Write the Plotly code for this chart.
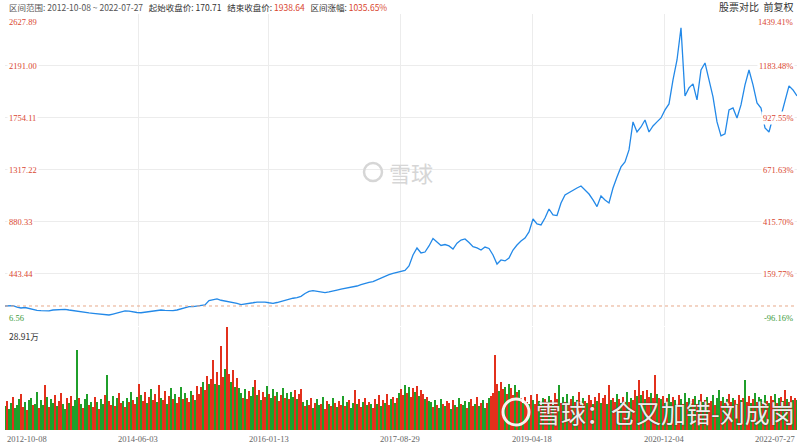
import pandas as pd
import plotly.graph_objects as go

start_date = "2012-10-08"
end_date = "2022-07-27"
tick_dates = ["2012-10-08", "2014-06-03", "2016-01-13", "2017-08-29",
              "2019-04-18", "2020-12-04", "2022-07-27"]
price_levels = [6.56, 443.44, 880.33, 1317.22, 1754.11, 2191.00, 2627.89]
pct_labels = ["-96.16%", "159.77%", "415.70%", "671.63%", "927.55%", "1183.48%", "1439.41%"]
start_close = 170.71

close = [
    170.71, 175, 173, 162, 154, 158, 150, 137, 134, 131, 129, 129, 137, 141, 145, 143, 137, 131, 126, 123,
    118, 112, 109, 106, 103, 98, 95, 103, 112, 123, 129, 127, 120, 116, 114, 118, 123, 131, 134, 137,
    134, 133, 131, 137, 148, 160, 165, 165, 168, 171, 179, 217, 224, 230, 219, 213, 209, 200, 193, 183,
    190, 196, 198, 204, 207, 204, 198, 193, 200, 210, 221, 230, 236, 242, 252, 276, 293, 300, 294, 290,
    284, 289, 300, 305, 312, 318, 322, 328, 339, 350, 362, 370, 375, 390, 406, 423, 434, 446, 453, 459,
    470, 507, 600, 659, 617, 625, 676, 739, 712, 680, 688, 676, 650, 699, 726, 735, 705, 670, 659, 642,
    667, 655, 600, 524, 558, 550, 575, 642, 684, 718, 743, 794, 903, 861, 853, 911, 987, 937, 932, 1038,
    1105, 1126, 1143, 1164, 1181, 1147, 1113, 1063, 1007, 1097, 1063, 1038, 1164, 1257, 1341, 1383, 1484, 1720, 1635, 1677,
    1736, 1635, 1686, 1720, 1753, 1821, 1871, 2073, 2241, 2511, 1938, 2006, 2040, 1905, 2157, 2216, 2073, 1930, 1720, 1602,
    1619, 1821, 1837, 1753, 1863, 2031, 2157, 2031, 1880, 1837, 1669, 1635, 1762, 1753, 1770, 1905, 2023, 1989, 1938.64,
]

# volume (万), sampled twice as densely as the close series
volume = [
    6.8, 8.2, 5.9, 7.7, 9.4, 6.3, 7.1, 8.8, 10.2, 6.5, 7.9, 5.6, 8.4, 9.1, 6.9, 7.4, 10.8, 6.1,
    8.3, 7.0, 12.6, 9.2, 6.4, 8.7, 7.5, 9.9, 6.8, 8.1, 10.4, 7.2, 6.0, 8.9, 7.7, 9.6, 6.6, 8.5,
    22.5,
    9.1, 7.4, 6.2, 8.6, 10.0, 7.1, 8.0, 6.5, 9.3, 7.8, 5.9, 8.8, 7.3, 9.7,
    15.5,
    8.2, 7.0, 9.6, 6.7, 8.9, 10.3, 7.5, 8.1, 6.4, 9.0, 7.8, 10.6, 8.4, 7.2, 9.4, 13.0,
    9.8, 8.1, 10.7, 7.6, 9.2, 11.4, 8.5, 10.0, 7.9, 12.6, 9.0, 8.3, 10.9, 7.4, 9.6,
    11.8, 8.8, 10.2, 7.7, 9.3, 12.1, 8.6, 10.5, 9.1, 7.8, 11.0, 9.7, 8.4, 12.4, 10.1,
    12.0, 13.5, 11.2, 15.1, 12.8, 14.2, 19.6, 13.0, 16.4, 12.5, 23.6, 14.8, 17.2, 28.91, 15.6, 13.4, 16.8, 12.2, 14.5, 11.8,
    10.4, 9.1, 11.6, 8.7, 10.9, 9.5, 12.0, 14.0, 9.8, 11.2, 8.5, 10.6, 9.3, 12.3, 10.0,
    8.9, 11.5, 9.6, 10.8, 8.2, 9.9, 11.9, 9.0, 10.3, 8.6, 10.7, 9.4, 11.1, 8.8, 10.2,
    11.5, 7.8, 6.6, 8.4, 7.1, 9.0, 6.3, 7.7, 8.6, 6.9, 7.4, 9.3, 6.0, 8.1, 7.2, 6.8, 8.9, 7.5, 6.4, 8.2,
    7.0, 9.5, 6.7, 7.9, 8.5, 6.2, 7.6, 11.2, 7.3, 8.7, 6.5, 7.8, 9.1, 6.9, 8.0, 7.4, 6.1, 8.8, 7.2, 9.8,
    6.6, 8.3, 7.7, 10.1, 7.0, 8.6, 9.4, 7.5, 8.9, 10.4,
    11.5, 9.8, 12.6, 10.4, 12.0, 9.2, 11.8, 10.6, 12.4, 9.6, 11.1, 10.0, 8.7, 9.4, 8.2,
    7.9, 6.5, 8.3, 7.0, 6.2, 8.8, 7.3, 6.7, 8.1, 7.6, 5.8, 8.5, 7.1, 6.4, 9.0, 7.4, 6.9, 8.2, 6.3, 7.8,
    8.6, 6.6, 7.2, 9.2, 6.8, 7.7, 8.4, 6.1, 7.5, 8.9, 9.6,
    10.5, 21.1,
    12.8, 10.9, 13.6, 11.4, 12.2, 10.1, 13.0, 11.7, 9.8, 12.5, 10.6, 11.3,
    8.9, 7.6, 9.4, 8.0, 7.2, 9.8, 8.5, 7.4, 10.2, 8.1, 6.9, 9.1, 8.7, 7.8, 9.6, 8.3, 7.0, 10.5, 8.8, 12.6,
    7.5, 9.2, 8.0, 10.0, 7.3, 8.6, 9.5, 7.9, 8.4, 10.8, 7.1, 9.0, 8.2, 7.7, 9.9, 8.5, 7.4, 9.3, 8.1, 10.4,
    7.6, 8.9, 9.7, 7.2, 12.6, 8.3, 9.1, 7.8, 10.1, 8.7, 7.5, 9.4, 8.0, 10.6, 7.9, 9.0, 8.4, 11.2, 9.5, 14.0,
    9.8, 10.9, 8.6, 11.3, 9.2, 10.4, 8.9, 15.4, 10.0, 9.1,
    8.7, 9.5, 7.6, 8.9, 10.1, 7.8, 9.2, 8.3, 7.1, 9.8, 8.6, 7.4, 10.3, 8.0, 9.1, 7.7, 8.8, 9.6, 7.3, 8.4,
    10.0, 7.9, 8.5, 9.3, 7.5, 8.2, 9.7, 7.0, 8.9, 11.2, 8.1, 9.4, 7.6, 8.7, 10.2, 7.8, 9.0, 8.3, 7.2, 9.9,
    8.4, 9.1, 14.0, 8.0, 9.6, 7.5, 8.8, 10.4, 7.9, 9.2, 8.6, 7.3, 9.8, 8.1, 7.7, 9.5, 8.4, 10.1, 7.6, 8.9,
    9.3, 8.2, 11.2, 8.7, 7.8, 9.6, 8.5, 9.0, 8.3,
]

# bar colour per volume bar: r = up day, g = down day
vol_dir = (
    "grggrgggrrgrggrggr" "ggrgrggrgrrggrgrgg" "g" "rgrggrgrrgrggr" "g"
    "rrgrgrrgrgrgrrgr" "grrgrgrrgrgrrgrgrgrrgrgrrgrgrr" "rgrrgrrgrgrrgrrgrgrg"
    "grgrrggrgrgrrgrggrgrrgrgrggrgr"
    "rgrgrrgrgg" "rgrrgrgrgr" "rgrgrggrgr" "rgrgrgrrgr" "grgrrgrgrg"
    "rrgrgrrgrgrrgrg" "grgrggrgrrgrgrgrggrgrrgrgrggrgr" "rr" "rgrrgrgrrgrg"
    "rgrrgrgrrgrgrrgrgrrg" "rgrgrrgrgrrgrgrrgrgr" "grrgrgrrgrgrrgrgrrgr"
    "grgrrgrrgr"
    "grgrggrgrrgrgrggrgrg" "rgrgrrgrggrgrgrrgrgr" "grgrrgrgrggrgrgrrgrg" "rgrgrrgrg"
)
vol_dir = vol_dir.ljust(len(volume), "r")[:len(volume)]

dates = pd.date_range(start_date, end_date, periods=len(close))
vol_dates = pd.date_range(start_date, end_date, periods=len(volume))
RED, GREEN = "#e2301c", "#1f9f2a"
colors = [RED if c == "r" else GREEN for c in vol_dir]
step_ms = (vol_dates[1] - vol_dates[0]).total_seconds() * 1000

W, H = 800, 445
ml, mr, mt, mb = 5, 3, 14, 15
ph = H - mt - mb
price_dom = [(430 - 325.5) / ph, 1.0]
vol_dom = [0.0, (430 - 327) / ph]

fig = go.Figure()
fig.add_trace(go.Bar(x=vol_dates, y=volume, marker=dict(color=colors, line=dict(width=0)),
                     width=step_ms * 0.8, xaxis="x2", yaxis="y2",
                     hoverinfo="skip", showlegend=False))
fig.add_trace(go.Scatter(x=dates, y=close, mode="lines",
                         line=dict(color="#2389e8", width=1.3),
                         xaxis="x", yaxis="y", hoverinfo="skip", showlegend=False))

fig.add_shape(type="line", xref="paper", x0=0, x1=1, yref="y", y0=start_close, y1=start_close,
              line=dict(color="#e7a98a", width=1, dash="dot"))

grid = "#ececec"
axis_common = dict(type="date", range=[dates[0], dates[-1]], tickvals=tick_dates,
                   showticklabels=False, showgrid=True, gridcolor=grid, gridwidth=1,
                   zeroline=False, showline=False, ticks="", fixedrange=True)
fig.update_layout(
    width=W, height=H,
    margin=dict(l=ml, r=mr, t=mt, b=mb),
    paper_bgcolor="white", plot_bgcolor="white",
    bargap=0,
    xaxis=dict(domain=[0, 1], anchor="y", **axis_common),
    xaxis2=dict(domain=[0, 1], anchor="y2", **axis_common),
    yaxis=dict(domain=price_dom, range=[price_levels[0], price_levels[-1]], tickvals=price_levels,
               showticklabels=False, showgrid=True, gridcolor=grid, zeroline=False, ticks=""),
    yaxis2=dict(domain=vol_dom, range=[0, max(volume)], showticklabels=False, showgrid=False,
                zeroline=False, ticks=""),
    font=dict(family="Liberation Serif", size=9),
)

ann = []
num_font = "Liberation Serif"
red_txt = "#d9462f"
green_txt = "#3a9a3a"
for i, (lv, pc) in enumerate(zip(price_levels, pct_labels)):
    col = red_txt if lv > start_close else green_txt
    if i == len(price_levels) - 1:
        ya, ys = "top", -1
    elif i == 0:
        ya, ys = "bottom", 1
    else:
        ya, ys = "middle", 0
    ann.append(dict(xref="paper", yref="y", x=0.003, y=lv, text=f"{lv:.2f}", showarrow=False,
                    xanchor="left", yanchor=ya, yshift=ys, bgcolor="white",
                    font=dict(family=num_font, size=8.5, color=col)))
    ann.append(dict(xref="paper", yref="y", x=0.997, y=lv, text=pc, showarrow=False,
                    xanchor="right", yanchor=ya, yshift=ys, bgcolor="white",
                    font=dict(family=num_font, size=8.5, color=col)))

for i, d in enumerate(tick_dates):
    xa = "left" if i == 0 else ("right" if i == len(tick_dates) - 1 else "center")
    ann.append(dict(xref="x2", yref="paper", x=d, y=-0.006, text=d, showarrow=False,
                    xanchor=xa, yanchor="top",
                    font=dict(family=num_font, size=8.5, color="#666666")))

ann.append(dict(xref="paper", yref="y2", x=0.003, y=max(volume), text=f"{max(volume):.2f}万",
                showarrow=False, xanchor="left", yanchor="top", yshift=-1,
                font=dict(family="Noto Sans CJK SC", size=8.5, color="#333333")))

hdr = ("<span style='color:#555'>区间范围: 2012-10-08 ~ 2022-07-27</span>"
       "&nbsp;&nbsp;&nbsp;<span style='color:#333'>起始收盘价: 170.71</span>"
       "&nbsp;&nbsp;&nbsp;<span style='color:#333'>结束收盘价: </span><span style='color:#d9462f'>1938.64</span>"
       "&nbsp;&nbsp;&nbsp;<span style='color:#333'>区间涨幅: </span><span style='color:#d9462f'>1035.65%</span>")
ann.append(dict(xref="paper", yref="paper", x=0.003, y=(430 - 7) / ph, text=hdr, showarrow=False,
                xanchor="left", yanchor="middle",
                font=dict(family="Noto Sans CJK SC, Liberation Serif", size=8.5)))
ann.append(dict(xref="paper", yref="paper", x=0.997, y=(430 - 7) / ph, text="股票对比&nbsp;&nbsp;前复权",
                showarrow=False, xanchor="right", yanchor="middle",
                font=dict(family="Noto Sans CJK SC", size=10, color="#333333")))

# centre watermark
ann.append(dict(xref="paper", yref="paper", x=(411 - ml) / 792, y=(430 - 172) / ph, text="雪球",
                showarrow=False, xanchor="center", yanchor="middle",
                font=dict(family="Noto Sans CJK SC", size=22, color="#d6d6d6")))
fig.add_shape(type="circle", xref="paper", yref="paper",
              x0=(364 - ml) / 792, x1=(382 - ml) / 792, y0=(430 - 181) / ph, y1=(430 - 163) / ph,
              line=dict(color="#d6d6d6", width=2.5))

# bottom-right watermark
ann.append(dict(xref="paper", yref="paper", x=(797 - ml) / 792, y=(430 - 412) / ph,
                text="雪球：仓又加错-刘成岗", showarrow=False, xanchor="right", yanchor="middle",
                font=dict(family="Noto Sans CJK SC", size=25, color="rgba(255,255,255,0.93)",
                          shadow="0px 0px 2px rgba(50,50,50,0.9)")))
fig.add_shape(type="circle", xref="paper", yref="paper",
              x0=(503 - ml) / 792, x1=(529 - ml) / 792, y0=(430 - 425) / ph, y1=(430 - 399) / ph,
              line=dict(color="rgba(255,255,255,0.93)", width=3))

fig.update_layout(annotations=ann)
fig.write_html("out.html")
